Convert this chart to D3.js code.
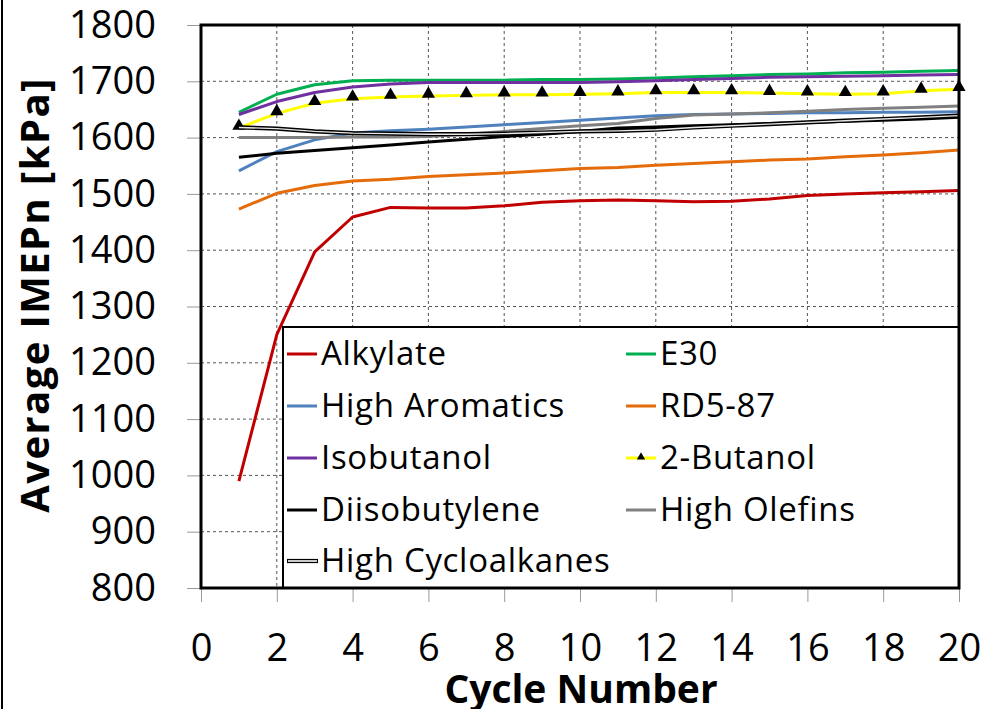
<!DOCTYPE html>
<html>
<head>
<meta charset="utf-8">
<script src="https://cdn.jsdelivr.net/npm/d3@7"></script>
<style>
  html, body { margin: 0; padding: 0; background: #fff; }
  svg { display: block; }
  text { font-family: "Open Sans", Lato, sans-serif; fill: #000; }
</style>
</head>
<body>
<svg id="chart" width="992" height="709"></svg>
<script>
// Cycle-resolved average IMEPn per fuel
const cycles = [1,2,3,4,5,6,7,8,9,10,11,12,13,14,15,16,17,18,19,20];

const alkylate        = [990,1250,1397,1459,1476,1475,1475,1479,1485,1488,1489,1488,1486,1487,1491,1497,1500,1502,1504,1506];
const e30             = [1645,1677,1694,1701,1702,1702,1702,1702,1703,1703,1704,1706,1708,1710,1712,1713,1715,1716,1718,1719];
const highAromatics   = [1541,1575,1596,1608,1612,1615,1619,1623,1627,1631,1635,1639,1641,1642,1643,1644,1644,1645,1645,1646];
const rd587           = [1473,1501,1515,1523,1526,1531,1534,1537,1541,1545,1547,1551,1554,1557,1560,1562,1566,1569,1573,1578];
const isobutanol      = [1641,1664,1680,1690,1695,1698,1698,1698,1698,1698,1699,1701,1703,1705,1707,1708,1709,1710,1711,1712];
const butanol2        = [1617,1643,1661,1669,1672,1674,1675,1676,1676,1677,1678,1680,1680,1680,1679,1678,1677,1678,1683,1686];
const diisobutylene   = [1565,1572,1577,1582,1587,1592,1597,1602,1606,1611,1617,1619,1621,1623,1625,1627,1629,1631,1633,1636];
const highOlefins     = [1600,1600,1600,1601,1601,1602,1606,1611,1616,1621,1625,1634,1640,1642,1644,1647,1650,1652,1654,1656];
const highCycloalkanes= [1618,1616,1611,1608,1607,1606,1606,1607,1609,1611,1612,1614,1618,1621,1624,1627,1630,1633,1636,1639];

const seriesNames  = ["Alkylate","E30","High Aromatics","RD5-87","Isobutanol","2-Butanol","Diisobutylene","High Olefins","High Cycloalkanes"];
const seriesValues = [alkylate,e30,highAromatics,rd587,isobutanol,butanol2,diisobutylene,highOlefins,highCycloalkanes];
const seriesColors = ["#C00000","#00B050","#4F81BD","#E46C0A","#7030A0","#FFFF00","#000000","#808080","#000000"];

const xTicks = [0,2,4,6,8,10,12,14,16,18,20];
const yTicks = [800,900,1000,1100,1200,1300,1400,1500,1600,1700,1800];

const xTitle = "Cycle Number";
const yTitle = "Average IMEPn [kPa]";

const svg = d3.select("#chart");

const plot = { left: 201, right: 959, top: 25, bottom: 588 };
const x = d3.scaleLinear().domain([0, 20]).range([plot.left, plot.right]);
const y = d3.scaleLinear().domain([800, 1800]).range([plot.bottom, plot.top]);

// thin frame line along the left edge of the figure
svg.append("line").attr("x1", 2).attr("x2", 2).attr("y1", 0).attr("y2", 709)
  .attr("stroke", "#000").attr("stroke-width", 2);

// plot background
svg.append("rect").attr("x", plot.left).attr("y", plot.top)
  .attr("width", plot.right - plot.left).attr("height", plot.bottom - plot.top)
  .attr("fill", "#fff");

// dashed gridlines
const grid = svg.append("g");
grid.selectAll(".vg").data(xTicks.filter(d => d > 0 && d < 20)).join("line")
  .attr("x1", d => x(d)).attr("x2", d => x(d))
  .attr("y1", plot.top).attr("y2", plot.bottom)
  .attr("stroke", "#555").attr("stroke-width", 1).attr("stroke-dasharray", "3,3");
grid.selectAll(".hg").data(yTicks.filter(d => d > 800 && d < 1800)).join("line")
  .attr("x1", plot.left).attr("x2", plot.right)
  .attr("y1", d => y(d)).attr("y2", d => y(d))
  .attr("stroke", "#555").attr("stroke-width", 1).attr("stroke-dasharray", "3,3");

// axes
const xAxis = svg.append("g").attr("transform", `translate(0,${plot.bottom})`)
  .call(d3.axisBottom(x).tickValues(xTicks).tickFormat(d3.format("d"))
    .tickSize(14).tickSizeOuter(0).tickPadding(27));
const yAxis = svg.append("g").attr("transform", `translate(${plot.left},0)`)
  .call(d3.axisLeft(y).tickValues(yTicks).tickFormat(d3.format("d"))
    .tickSize(14).tickSizeOuter(0).tickPadding(31));
[xAxis, yAxis].forEach(g => {
  g.select(".domain").remove();
  g.selectAll(".tick line").attr("stroke", "#999").attr("stroke-width", 1);
  g.selectAll(".tick text").style("font-family", "'Open Sans', sans-serif")
    .style("font-size", "38px").attr("fill", "#000");
});
xAxis.selectAll(".tick text").attr("dy", "0.85em");

// series lines
const line = d3.line().x((d, i) => x(cycles[i])).y(d => y(d));
const lines = svg.append("g");
seriesValues.forEach((vals, k) => {
  const name = seriesNames[k];
  if (name === "High Cycloalkanes") {
    lines.append("path").datum(vals).attr("d", line)
      .attr("fill", "none").attr("stroke", "#000").attr("stroke-width", 4.2);
    lines.append("path").datum(vals).attr("d", line)
      .attr("fill", "none").attr("stroke", "#e8e8e8").attr("stroke-width", 1.4);
  } else {
    lines.append("path").datum(vals).attr("d", line)
      .attr("fill", "none").attr("stroke", seriesColors[k]).attr("stroke-width", 3)
      .attr("stroke-linejoin", "round");
  }
  if (name === "2-Butanol") {
    lines.append("g").selectAll("path").data(vals).join("path")
      .attr("d", d3.symbol(d3.symbolTriangle, 75))
      .attr("transform", (d, i) => `translate(${x(cycles[i])},${y(d) - 2})`)
      .attr("fill", "#000");
  }
});

// legend box
const legend = { left: 283, top: 327 };
svg.append("rect").attr("x", legend.left).attr("y", legend.top)
  .attr("width", plot.right - legend.left).attr("height", plot.bottom - legend.top)
  .attr("fill", "#fff").attr("stroke", "#000").attr("stroke-width", 2);

const rowY = [354, 406, 458, 510, 561];
const colX = [287, 626];
const lg = svg.append("g");
seriesNames.forEach((name, k) => {
  const col = k % 2, row = Math.floor(k / 2);
  const sx = colX[col], sy = rowY[row];
  const item = lg.append("g");
  if (name === "High Cycloalkanes") {
    item.append("line").attr("x1", sx).attr("x2", sx + 31).attr("y1", sy).attr("y2", sy)
      .attr("stroke", "#000").attr("stroke-width", 4.2);
    item.append("line").attr("x1", sx + 1).attr("x2", sx + 30).attr("y1", sy).attr("y2", sy)
      .attr("stroke", "#fff").attr("stroke-width", 1.6);
  } else {
    item.append("line").attr("x1", sx).attr("x2", sx + 30).attr("y1", sy).attr("y2", sy)
      .attr("stroke", seriesColors[k]).attr("stroke-width", 3);
  }
  if (name === "2-Butanol") {
    item.append("path").attr("d", d3.symbol(d3.symbolTriangle, 30))
      .attr("transform", `translate(${sx + 15},${sy - 1})`).attr("fill", "#000");
  }
  item.append("text").attr("x", sx + 34).attr("y", sy + 11)
    .style("font-size", "33px").style("letter-spacing", "0.7px").text(name);
});

// plot frame
svg.append("rect").attr("x", plot.left).attr("y", plot.top)
  .attr("width", plot.right - plot.left).attr("height", plot.bottom - plot.top)
  .attr("fill", "none").attr("stroke", "#000").attr("stroke-width", 3);

// axis titles
svg.append("text").attr("x", 581).attr("y", 703).attr("text-anchor", "middle")
  .style("font-size", "39px").style("font-weight", "bold").text(xTitle);
svg.append("text").attr("transform", "translate(49,295) rotate(-90)")
  .attr("text-anchor", "middle")
  .style("font-size", "40px").style("font-weight", "bold").style("letter-spacing", "1.4px")
  .text(yTitle);
</script>
</body>
</html>
